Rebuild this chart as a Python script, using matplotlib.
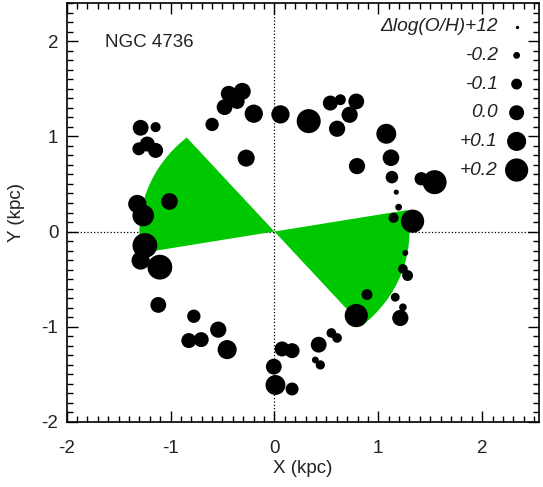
import numpy as np
import matplotlib.pyplot as plt
from matplotlib.patches import Wedge
from matplotlib.ticker import MultipleLocator

plt.rcParams['font.family'] = ['Liberation Sans', 'DejaVu Sans']
plt.rcParams['axes.unicode_minus'] = False

# HII regions: position (kpc) and delta log(O/H)+12
x = [-1.288, -1.144, -1.305, -1.224, -1.144, -1.32, -1.263, -1.01, -1.247, -1.288,
     -1.103, -1.118, -0.776, -0.824, -0.705, -0.541, -0.455, -0.006, 0.01, 0.17,
     0.074, 0.17, 0.426, 0.394, 0.442, 0.548, 0.603, 0.788, 0.891, 1.163,
     1.237, 1.212, 1.26, 1.237, 1.282, 1.33, 1.147, 1.196, 1.173, 1.131,
     1.122, 1.077, 1.413, 1.542, 0.795, 0.603, 0.724, 0.788, 0.635, 0.538,
     0.33, 0.058, -0.199, -0.272, -0.31, -0.359, -0.44, -0.48, -0.6]
y = [1.091, 1.098, 0.87, 0.92, 0.853, 0.29, 0.168, 0.316, -0.147, -0.305,
     -0.375, -0.772, -0.891, -1.147, -1.137, -1.032, -1.242, -1.421, -1.614, -1.656,
     -1.235, -1.253, -1.19, -1.351, -1.403, -1.067, -1.119, -0.884, -0.663, -0.691,
     -0.796, -0.909, -0.225, -0.393, -0.463, 0.109, 0.144, 0.256, 0.414, 0.572,
     0.776, 1.028, 0.555, 0.519, 0.688, 1.081, 1.228, 1.368, 1.386, 1.351,
     1.161, 1.232, 1.239, 0.772, 1.474, 1.368, 1.449, 1.308, 1.126]
dlog = [0.02, -0.12, -0.05, 0.0, 0.0, 0.08, 0.16, 0.04, 0.24, 0.08,
        0.24, 0.02, -0.04, 0.0, 0.0, 0.03, 0.1, 0.02, 0.12, -0.05,
        0.0, 0.0, 0.02, -0.2, -0.14, -0.13, -0.13, 0.2, -0.1, -0.15,
        -0.18, 0.03, -0.22, -0.13, -0.1, 0.2, -0.12, -0.2, -0.24, -0.06,
        0.04, 0.12, -0.04, 0.22, 0.03, 0.03, 0.03, 0.02, -0.1, 0.0,
        0.22, 0.08, 0.08, 0.05, 0.05, 0.0, 0.02, 0.02, -0.04]

leg_vals = [-0.2, -0.1, 0.0, 0.1, 0.2]
leg_labels = ['-0.2', '-0.1', '0.0', '+0.1', '+0.2']

# cone angles (deg) and radius (kpc)
cone_a1, cone_a2, cone_r = -49.5, 10.0, 1.3


def msize(v):
    d_px = 15 + 41 * np.asarray(v)
    return (d_px * 0.72) ** 2


fig = plt.figure(figsize=(5.43, 4.87), dpi=100)
ax = fig.add_axes([0.1228, 0.1341, 0.8704, 0.8591])

ax.axhline(0, color='black', ls=':', lw=0.9, zorder=1)
ax.axvline(0, color='black', ls=':', lw=0.9, zorder=1)

green = '#00c800'
ax.add_patch(Wedge((0, 0), cone_r, cone_a1, cone_a2, color=green, lw=0, zorder=2))
ax.add_patch(Wedge((0, 0), cone_r, cone_a1 + 180, cone_a2 + 180, color=green, lw=0, zorder=2))

ax.scatter(x, y, s=msize(dlog), c='black', edgecolors='none', zorder=3)

# legend
txtc = '#222222'
rows = 0.944 - 0.0685 * np.arange(6)
ax.text(0.9126, rows[0], '\u0394log(O/H)+12', transform=ax.transAxes,
        ha='right', va='center', fontsize=13.8, style='italic', color=txtc)
ax.scatter([0.952], [rows[0]], s=2, c='black', transform=ax.transAxes, zorder=3)
for i in range(len(leg_vals)):
    ax.text(0.9126, rows[i + 1], leg_labels[i], transform=ax.transAxes,
            ha='right', va='center', fontsize=13.8, style='italic', color=txtc)
    ax.scatter([0.952], [rows[i + 1]], s=msize(leg_vals[i]), c='black',
               edgecolors='none', transform=ax.transAxes, zorder=3)

ax.text(0.081, 0.9075, 'NGC 4736', transform=ax.transAxes, ha='left', va='center',
        fontsize=13.5, color=txtc)

ax.set_xlim(-2, 2.55)
ax.set_ylim(-2.0, 2.4)
ax.xaxis.set_major_locator(MultipleLocator(1))
ax.yaxis.set_major_locator(MultipleLocator(1))
ax.xaxis.set_minor_locator(MultipleLocator(0.1))
ax.yaxis.set_minor_locator(MultipleLocator(0.1))
ax.tick_params(which='both', direction='in', top=True, right=True, width=1)
ax.tick_params(which='major', length=8)
ax.tick_params(which='minor', length=4)
ax.tick_params(axis='x', which='major', pad=13, labelsize=13.5, labelcolor=txtc)
ax.tick_params(axis='y', which='major', pad=6, labelsize=13.5, labelcolor=txtc)
for s in ax.spines.values():
    s.set_linewidth(1.2)

ax.set_xlabel('X (kpc)', fontsize=13.5, color=txtc)
ax.set_ylabel('Y (kpc)', fontsize=13.5, color=txtc)
ax.xaxis.set_label_coords(0.5, -0.092)
ax.yaxis.set_label_coords(-0.089, 0.5)

plt.savefig('out.png', dpi=100)
